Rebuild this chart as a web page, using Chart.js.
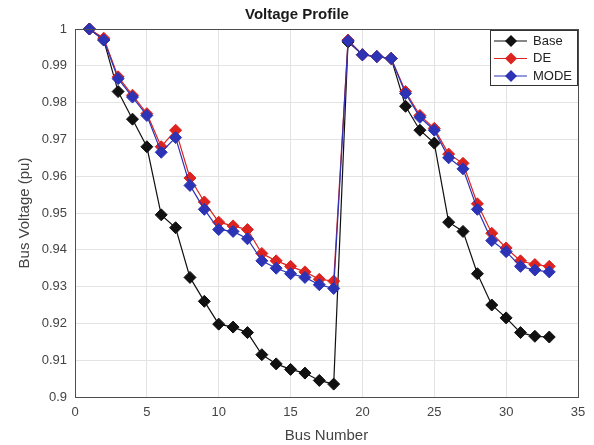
<!DOCTYPE html>
<html lang="en">
<head>
    <meta charset="UTF-8">
    <title>Voltage Profile</title>
    <script src="https://cdn.jsdelivr.net/npm/chart.js@4.4.1/dist/chart.umd.min.js"></script>
    <style>
        body { margin: 0; background: #fff; }
        #wrap { width: 594px; height: 445px; }
    </style>
</head>
<body>
<div id="wrap"><canvas id="voltage-chart" width="594" height="445"></canvas></div>

<script>
    const buses = [1, 2, 3, 4, 5, 6, 7, 8, 9, 10, 11, 12, 13, 14, 15, 16, 17,
                   18, 19, 20, 21, 22, 23, 24, 25, 26, 27, 28, 29, 30, 31, 32, 33];
    const baseV = [1.0, 0.997, 0.983, 0.9755, 0.968, 0.9495, 0.946, 0.9325, 0.926, 0.9198,
                   0.919, 0.9175, 0.9115, 0.909, 0.9075, 0.9065, 0.9045, 0.9035, 0.9965, 0.993,
                   0.9925, 0.992, 0.979, 0.9725, 0.969, 0.9475, 0.945, 0.9335, 0.925, 0.9215,
                   0.9175, 0.9165, 0.9163];
    const deV = [1.0, 0.9975, 0.987, 0.982, 0.977, 0.968, 0.9725, 0.9595, 0.953, 0.9475,
                 0.9465, 0.9455, 0.939, 0.937, 0.9355, 0.934, 0.932, 0.9315, 0.997, 0.993,
                 0.9925, 0.992, 0.983, 0.9765, 0.973, 0.966, 0.9635, 0.9525, 0.9445, 0.9405,
                 0.937, 0.936, 0.9355];
    const modeV = [1.0, 0.997, 0.9865, 0.9815, 0.9765, 0.9665, 0.9705, 0.9575, 0.951, 0.9455,
                   0.945, 0.943, 0.937, 0.935, 0.9335, 0.9325, 0.9305, 0.9295, 0.9968, 0.993,
                   0.9925, 0.992, 0.9825, 0.976, 0.9725, 0.965, 0.962, 0.951, 0.9425, 0.9395,
                   0.9355, 0.9345, 0.934];
    const seriesNames = ['Base', 'DE', 'MODE'];
    const seriesColors = ['#111111', '#dc2320', '#2c33b5'];
    const xTicks = [0, 5, 10, 15, 20, 25, 30, 35];

    const fontFamily = "'Liberation Sans', Arial, sans-serif";

    function toPoints(values) {
        return values.map((v, i) => ({x: buses[i], y: v}));
    }

    // later series sit on top (MODE over DE over Base), as in the original figure
    const datasets = [baseV, deV, modeV].map((vals, i) => ({
        label: seriesNames[i],
        data: toPoints(vals),
        order: 3 - i,
        clip: false,
        borderColor: seriesColors[i],
        backgroundColor: seriesColors[i],
        borderWidth: 1.2,
        pointStyle: 'rectRot',
        pointRadius: 6,
        pointHoverRadius: 6,
        pointBorderWidth: 1,
        tension: 0
    }));

    // box around plot area plus legend inside the upper right corner
    const boxPlugin = {
        id: 'boxPlugin',
        afterDraw(chart) {
            const ctx = chart.ctx;
            const a = chart.chartArea;
            ctx.save();
            ctx.strokeStyle = '#4d4d4d';
            ctx.lineWidth = 1;
            ctx.strokeRect(a.left + 0.5, a.top + 0.5, a.right - a.left, a.bottom - a.top);

            const w = 88, h = 56;
            const x0 = a.right - w, y0 = a.top + 1;
            ctx.fillStyle = '#fff';
            ctx.fillRect(x0, y0, w, h);
            ctx.strokeStyle = '#333';
            ctx.strokeRect(x0 + 0.5, y0 + 0.5, w - 1, h - 1);
            ctx.font = '13px ' + fontFamily;
            ctx.textBaseline = 'middle';
            seriesNames.forEach((name, i) => {
                const y = y0 + 11 + i * 17.5;
                ctx.strokeStyle = seriesColors[i];
                ctx.lineWidth = 1.2;
                ctx.beginPath();
                ctx.moveTo(x0 + 4, y);
                ctx.lineTo(x0 + 37, y);
                ctx.stroke();
                ctx.fillStyle = seriesColors[i];
                ctx.beginPath();
                ctx.moveTo(x0 + 21, y - 6);
                ctx.lineTo(x0 + 27, y);
                ctx.lineTo(x0 + 21, y + 6);
                ctx.lineTo(x0 + 15, y);
                ctx.closePath();
                ctx.fill();
                ctx.fillStyle = '#222';
                ctx.fillText(name, x0 + 43, y);
            });
            ctx.restore();
        }
    };

    new Chart('voltage-chart', {
        type: 'line',
        data: {datasets: datasets},
        options: {
            responsive: false,
            animation: false,
            layout: {padding: {left: 16, right: 16, top: 0, bottom: 0}},
            plugins: {
                legend: {display: false},
                tooltip: {enabled: false},
                title: {
                    display: true,
                    text: 'Voltage Profile',
                    color: '#1a1a1a',
                    font: {family: fontFamily, size: 15, weight: 'bold'},
                    padding: {top: 6, bottom: 5}
                }
            },
            scales: {
                x: {
                    type: 'linear',
                    min: 0,
                    max: 35,
                    afterBuildTicks(scale) {
                        scale.ticks = xTicks.map(v => ({value: v}));
                    },
                    afterFit(scale) { scale.height = 48; },
                    grid: {color: '#e3e3e3', drawTicks: false},
                    border: {display: false},
                    ticks: {
                        color: '#444',
                        padding: 8,
                        font: {family: fontFamily, size: 13}
                    },
                    title: {
                        display: true,
                        text: 'Bus Number',
                        color: '#444',
                        padding: {top: 1, bottom: 0},
                        font: {family: fontFamily, size: 15}
                    }
                },
                y: {
                    type: 'linear',
                    min: 0.9,
                    max: 1,
                    afterFit(scale) { scale.width = 59; },
                    grid: {color: '#e3e3e3', drawTicks: false},
                    border: {display: false},
                    ticks: {
                        stepSize: 0.01,
                        color: '#444',
                        padding: 8,
                        font: {family: fontFamily, size: 13},
                        callback: v => String(Number(v.toFixed(2)))
                    },
                    title: {
                        display: true,
                        text: 'Bus Voltage (pu)',
                        color: '#444',
                        padding: {top: 0, bottom: 4},
                        font: {family: fontFamily, size: 15}
                    }
                }
            }
        },
        plugins: [boxPlugin]
    });
</script>
</body>
</html>
